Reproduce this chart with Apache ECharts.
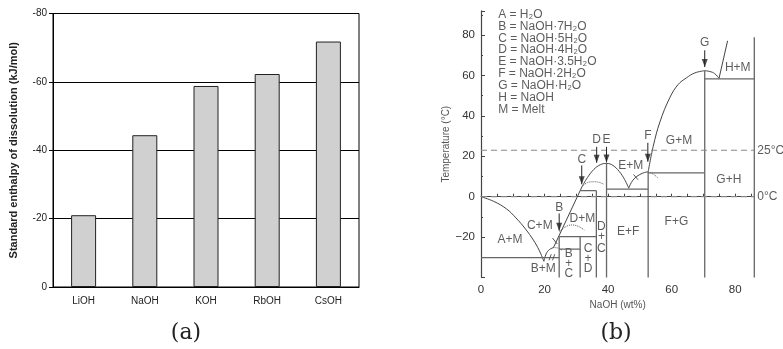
<!DOCTYPE html>
<html><head><meta charset="utf-8">
<script src="https://cdn.jsdelivr.net/npm/echarts@6/dist/echarts.min.js"></script>
<style>html,body{margin:0;padding:0;background:#fff}#c{width:783px;height:349px}</style>
</head><body><div id="c"></div>
<script>
// ---- (a) bar chart data ----
const categories = ['LiOH', 'NaOH', 'KOH', 'RbOH', 'CsOH'];
const enthalpy = [-21.0, -44.4, -58.8, -62.3, -71.8];

// ---- (b) phase diagram data (NaOH wt%, temperature °C) ----
const iceLiquidus = [[0,0],[4,-2.3],[8,-6],[11,-10.5],[14,-16],[16.5,-21.5],[18.3,-26.5],[19.8,-32]];
const bLiquidus = [[19.8,-32],[20.5,-28.3],[21.5,-26.2],[22.8,-25.2]];
const bDotted = [[22.8,-25.2],[24.2,-25.4],[25.6,-26.6]];
const cLiquidus = [[22.8,-25.2],[31.8,5]];
const cDotted = [[24.6,-17.5],[26.5,-15],[28.5,-14],[30.5,-14.6],[32.5,-16.5]];
const deDome = [[31.8,5],[33.5,9.5],[35.5,13.5],[37.5,15.8],[39.5,16.5],[41.5,15.5],[43.5,12.5],[45.2,8.5],[46.5,4.2]];
const dDotted = [[31.8,5],[33.5,7],[35.3,7.4],[37,7.2],[38.5,6.3]];
const fLiquidus = [[46.5,4.2],[47.3,7],[48.4,9.2],[50,11],[51.5,12],[52.6,12.3]];
const fDotted = [[52.6,12.3],[54.2,11.2],[55.8,9.1]];
const gLiquidus = [[52.6,12.3],[54.2,25],[56.3,37],[59.4,49],[62,55.5],[64.6,58.8],[67.3,61.3],[70.4,62.4]];
const gArc = [[70.4,62.4],[72,62],[73.5,61],[74.9,58.6]];
const hLiquidus = [[74.9,58.6],[77.6,77.2]];
const phaseLines = [
  [[0,-30.2],[24.6,-30.2]],
  [[24.6,-40],[24.6,-19.8]],
  [[24.6,-26],[31.2,-26]],
  [[24.6,-19.8],[36.3,-19.8]],
  [[31.2,-40],[31.2,-19.8]],
  [[31.3,3],[36.3,3]],
  [[36.3,-40],[36.3,3]],
  [[39.5,-40],[39.5,16.5]],
  [[39.5,3.8],[52.6,3.8]],
  [[52.6,-40],[52.6,12.3]],
  [[52.6,11.8],[70.4,11.8]],
  [[70.4,-40],[70.4,62.4]],
  [[70.4,58.3],[86,58.3]],
  [[86,-40],[86,79]]
];
const smallMarks = [
  [[22.5,-20.5],[24,-23.4]],
  [[21.4,-31.5],[22.1,-28.5]],
  [[22.5,-31.5],[23.2,-28.5]],
  [[48,11],[49.4,8.4]]
];
const refTemps = [23, 0];
const refLabels = ['25°C', '0°C'];
const arrows = [
  {name:'B', x:24.6, from:-8.3, to:-16.8, ly:-5.5},
  {name:'C', x:31.7, from:15.5, to:6.2, ly:18.3},
  {name:'D', x:36.4, from:24.7, to:16.8, ly:28.3},
  {name:'E', x:39.5, from:24.7, to:17, ly:28.3},
  {name:'F', x:52.5, from:26.7, to:17.3, ly:30.2},
  {name:'G', x:70.4, from:72.5, to:64.2, ly:76.2}
];
const regionLabels = [
  ['A+M',9.1,-21.4],['C+M',18.5,-14.5],['D+M',31.9,-10.7],['B+M',19.6,-35.4],
  ['B',27.6,-28],['+',27.6,-33],['C',27.6,-38],
  ['C',33.7,-25.5],['+',33.7,-30.5],['D',33.7,-35.4],
  ['D',37.9,-14.8],['+',37.9,-20],['C',37.9,-25.5],
  ['E+F',46.3,-17.3],['F+G',61.5,-12.4],['E+M',47.1,15.2],['G+M',62.3,27.7],
  ['G+H',78,8.6],['H+M',80.8,63.8]
];
const legendLines = ['A = H₂O','B = NaOH·7H₂O','C = NaOH·5H₂O','D = NaOH·4H₂O','E = NaOH·3.5H₂O','F = NaOH·2H₂O','G = NaOH·H₂O','H = NaOH','M = Melt'];
const legendY = [90, 84.2, 78.4, 72.6, 66.8, 61.1, 54.9, 49, 42.9];

const FONT = 'Liberation Sans, Arial, sans-serif';
const series = [];
series.push({type:'bar', xAxisIndex:0, yAxisIndex:0, data:enthalpy, barWidth:25,
  itemStyle:{color:'#d0d0d0', borderColor:'#222', borderWidth:1}});
function line(data, opts){
  series.push(Object.assign({type:'line', xAxisIndex:1, yAxisIndex:1, data:data, symbol:'none',
    lineStyle:{color:'#444', width:1}, silent:true}, opts||{}));
}
line(iceLiquidus, {smooth:0.4});
line(bLiquidus, {smooth:0.4});
line(bDotted, {smooth:0.4, lineStyle:{color:'#555', width:1, type:'dotted'}});
line(cLiquidus);
line(cDotted, {smooth:0.4, lineStyle:{color:'#555', width:1, type:'dotted'}});
line(deDome, {smooth:0.4});
line(dDotted, {smooth:0.4, lineStyle:{color:'#555', width:1, type:'dotted'}});
line(fLiquidus, {smooth:0.4});
line(fDotted, {smooth:0.4, lineStyle:{color:'#555', width:1, type:'dotted'}});
line(gLiquidus, {smooth:0.4});
line(gArc, {smooth:0.4});
line(hLiquidus);
phaseLines.forEach(p => line(p, {lineStyle:{color:'#666', width:1.3}}));
smallMarks.forEach(p => line(p, {lineStyle:{color:'#555', width:1}}));
refTemps.forEach(t => line([[0,t],[86,t]], {lineStyle:{color:'#888', width:1.2, type:[6,4]}}));
// arrows: shafts + heads
arrows.forEach(a => line([[a.x, a.from],[a.x, a.to]], {lineStyle:{color:'#222', width:1}}));
series.push({type:'scatter', xAxisIndex:1, yAxisIndex:1, silent:true, symbol:'triangle',
  symbolSize:[6,8], symbolRotate:180, symbolOffset:[0,-4], itemStyle:{color:'#222'},
  data: arrows.map(a => [a.x, a.to])});
// labels
const lblStyle = {show:true, position:'inside', formatter:'{b}', fontSize:12, color:'#333', fontFamily:FONT};
series.push({type:'scatter', xAxisIndex:1, yAxisIndex:1, symbolSize:0, silent:true,
  label:lblStyle,
  data: regionLabels.map(r => ({name:r[0], value:[r[1], r[2]]}))
    .concat(arrows.map(a => ({name:a.name, value:[a.x, a.ly]})))});
series.push({type:'scatter', xAxisIndex:1, yAxisIndex:1, symbolSize:0, silent:true,
  label:{show:true, position:'right', distance:3, formatter:'{b}', fontSize:12, color:'#333', fontFamily:FONT},
  data: refTemps.map((t,i) => ({name:refLabels[i], value:[86, t]}))});
series.push({type:'scatter', xAxisIndex:1, yAxisIndex:1, symbolSize:0, silent:true,
  label:{show:true, position:'right', distance:0, formatter:'{b}', fontSize:12, color:'#333', fontFamily:FONT},
  data: legendLines.map((s,i) => ({name:s, value:[5.4, legendY[i]]}))});

const option = {
  animation:false,
  backgroundColor:'#fff',
  grid:[
    {left:53, top:13.5, width:306, height:273.5, show:true, borderColor:'#000', borderWidth:1},
    {left:481, top:10.9, width:273.3, height:266.6}
  ],
  xAxis:[
    {gridIndex:0, type:'category', data:categories,
      axisLine:{lineStyle:{color:'#000'}}, axisTick:{length:5, lineStyle:{color:'#000'}},
      axisLabel:{fontSize:10, color:'#222', margin:9, fontFamily:FONT}},
    {gridIndex:1, type:'value', min:0, max:86, interval:5,
      axisLine:{lineStyle:{color:'#444', width:1.2}}, axisTick:{inside:true, length:3, lineStyle:{color:'#444'}},
      splitLine:{show:false},
      axisLabel:{fontSize:11.5, color:'#333', margin:6, fontFamily:FONT, formatter:v => (v%20===0 && v<=80) ? String(v) : ''},
      name:'NaOH (wt%)', nameLocation:'middle', nameGap:22, nameTextStyle:{fontSize:10, color:'#555', fontFamily:FONT}}
  ],
  yAxis:[
    {gridIndex:0, type:'value', inverse:true, min:-80, max:0, interval:20,
      axisLine:{show:true, lineStyle:{color:'#000'}}, axisTick:{show:true, length:4, lineStyle:{color:'#000'}},
      splitLine:{lineStyle:{color:'#000', width:1}},
      axisLabel:{fontSize:10, color:'#222', margin:6, fontFamily:FONT},
      name:'Standard enthalpy of dissolution (kJ/mol)', nameLocation:'middle', nameGap:34,
      nameTextStyle:{fontSize:11, fontWeight:'bold', color:'#222', fontFamily:FONT}},
    {gridIndex:1, type:'value', min:-40, max:92, interval:20,
      axisLine:{show:true, lineStyle:{color:'#444', width:1.2}},
      axisTick:{show:true, inside:true, length:4, lineStyle:{color:'#444'}},
      minorTick:{show:true, splitNumber:2, length:2, lineStyle:{color:'#444'}},
      splitLine:{show:false},
      axisLabel:{fontSize:11.5, color:'#333', margin:6, fontFamily:FONT,
        formatter:v => (v%20!==0 || v===-40 || v>80) ? '' : (v<0 ? '\u2212'+(-v) : String(v))},
      name:'Temperature (°C)', nameLocation:'middle', nameGap:26, nameTextStyle:{fontSize:10, color:'#555', fontFamily:FONT}}
  ],
  graphic:[
    {type:'text', x:186, y:333, style:{text:'(a)', font:'22px "DejaVu Serif", serif', fill:'#222', textAlign:'center', textVerticalAlign:'middle'}},
    {type:'text', x:616, y:333, style:{text:'(b)', font:'22px "DejaVu Serif", serif', fill:'#222', textAlign:'center', textVerticalAlign:'middle'}}
  ],
  series:series
};
echarts.init(document.getElementById('c'), null, {renderer:'canvas'}).setOption(option);
</script></body></html>
